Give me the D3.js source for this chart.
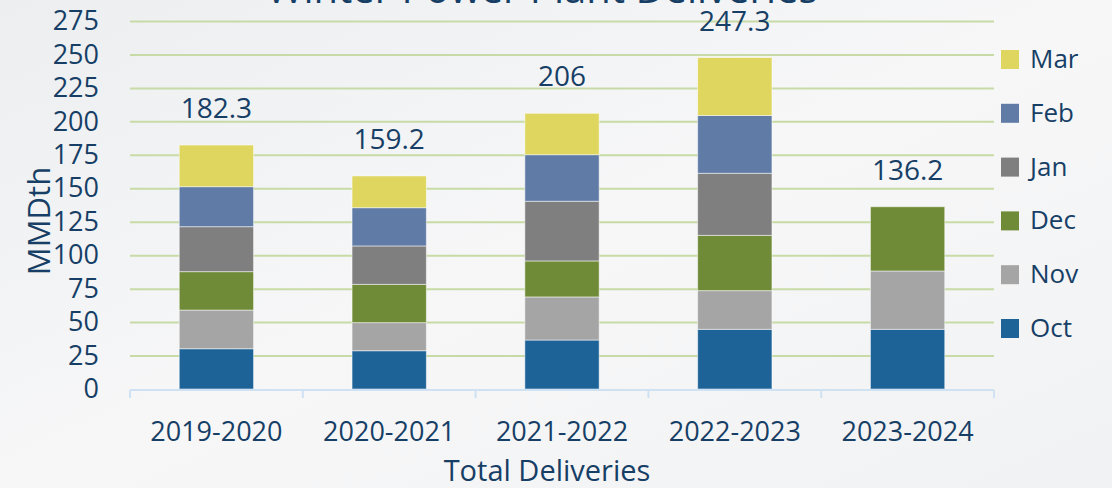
<!DOCTYPE html>
<html>
<head>
<meta charset="utf-8">
<script src="https://cdn.jsdelivr.net/npm/d3@7"></script>
<style>
  body { margin: 0; background: #f3f4f5; }
  svg { display: block; font-family: "Open Sans", sans-serif; }
</style>
</head>
<body>
<svg id="chart"></svg>
<script>
// seasons on the x axis
const seasons = ['2019-2020', '2020-2021', '2021-2022', '2022-2023', '2023-2024'];
// monthly deliveries, MMDth (stack order bottom -> top)
const months = ['Oct', 'Nov', 'Dec', 'Jan', 'Feb', 'Mar'];
const oct = [30.1, 28.6, 36.6, 44.6, 44.6];
const nov = [28.9, 21.0, 32.2, 28.9, 43.6];
const dec = [28.7, 28.6, 26.9, 41.3, 48.0];
const jan = [33.6, 28.7, 44.6, 46.4, 0];
const feb = [29.9, 28.6, 34.8, 43.2, 0];
const mar = [31.1, 23.7, 30.9, 43.3, 0];
const totals = ['182.3', '159.2', '206', '247.3', '136.2'];
const yTicks = [0, 25, 50, 75, 100, 125, 150, 175, 200, 225, 250, 275];
const monthColors = ['#1e6398', '#a5a5a5', '#6f8b37', '#7f7f7f', '#607ca6', '#ded65e'];

const series = [oct, nov, dec, jan, feb, mar];

let W = 1112, H = 488;
let margin = {top: 21, right: 118, bottom: 99, left: 130};
let w = W - margin.left - margin.right;
let h = H - margin.top - margin.bottom;
const navy = '#173f66';

let svg = d3.select('#chart').attr('width', W).attr('height', H);

// faint background wash
let defs = svg.append('defs');
let grad = defs.append('linearGradient').attr('id', 'bg')
    .attr('x1', 0).attr('y1', 0).attr('x2', 1).attr('y2', 1);
grad.append('stop').attr('offset', '0%').attr('stop-color', '#eceef0');
grad.append('stop').attr('offset', '50%').attr('stop-color', '#f7f7f8');
grad.append('stop').attr('offset', '100%').attr('stop-color', '#f1f2f3');
svg.append('rect').attr('width', W).attr('height', H).attr('fill', 'url(#bg)');

// title (mostly cut off above the frame)
svg.append('text')
    .attr('x', 542).attr('y', 3)
    .attr('text-anchor', 'middle')
    .attr('font-size', '40px')
    .attr('fill', navy)
    .text('Winter Power Plant Deliveries');

let g = svg.append('g').attr('transform', `translate(${margin.left},${margin.top})`);

let table = seasons.map((s, i) => {
    let row = {season: s};
    months.forEach((m, k) => row[m] = series[k][i]);
    return row;
});

let stacked = d3.stack().keys(months)(table);

let xScale = d3.scaleBand().domain(seasons).range([0, w]).paddingInner(0.57).paddingOuter(0.285);
let yScale = d3.scaleLinear().domain([0, 275]).range([h, 0]);
let color = d3.scaleOrdinal().domain(months).range(monthColors);

// gridlines
g.append('g')
    .call(d3.axisLeft(yScale).tickValues(yTicks).tickSize(-w).tickFormat(''))
    .call(a => a.select('.domain').remove())
    .call(a => a.selectAll('line').filter(d => d === 0).remove())
    .call(a => a.selectAll('line').attr('stroke', '#c8dba6').attr('stroke-width', 2));

// y tick labels
g.append('g')
    .call(d3.axisLeft(yScale).tickValues(yTicks).tickSize(0).tickPadding(31))
    .call(a => a.select('.domain').remove())
    .call(a => a.selectAll('text')
        .attr('font-family', '"Open Sans", sans-serif')
        .attr('font-size', '27px')
        .attr('fill', navy));

// bars
g.append('g').selectAll('g')
    .data(stacked)
    .join('g')
    .attr('fill', d => color(d.key))
    .selectAll('rect')
    .data(d => d.filter(p => p[1] - p[0] > 0))
    .join('rect')
    .attr('x', d => xScale(d.data.season))
    .attr('y', d => yScale(d[1]))
    .attr('width', xScale.bandwidth())
    .attr('height', d => yScale(d[0]) - yScale(d[1]))
    .attr('stroke', 'rgba(255,255,255,0.5)')
    .attr('stroke-width', 1);

// total labels
g.append('g').selectAll('text')
    .data(table)
    .join('text')
    .attr('x', d => xScale(d.season) + xScale.bandwidth() / 2)
    .attr('y', d => yScale(d3.sum(months, m => d[m])) - 27)
    .attr('text-anchor', 'middle')
    .attr('font-size', '28px')
    .attr('fill', navy)
    .text((d, i) => totals[i]);

// x axis
let xEdges = d3.scaleLinear().domain([0, seasons.length]).range([0, w]);
let xAxis = g.append('g').attr('transform', `translate(0,${h + 1})`);
xAxis.append('line')
    .attr('x1', 0).attr('x2', w)
    .attr('stroke', '#cfe2f3').attr('stroke-width', 2);
xAxis.selectAll('.tick')
    .data(d3.range(seasons.length + 1))
    .join('line')
    .attr('x1', d => xEdges(d)).attr('x2', d => xEdges(d))
    .attr('y1', 0).attr('y2', 8)
    .attr('stroke', '#cfe2f3').attr('stroke-width', 2);
xAxis.selectAll('text')
    .data(seasons)
    .join('text')
    .attr('x', d => xScale(d) + xScale.bandwidth() / 2)
    .attr('y', 51)
    .attr('text-anchor', 'middle')
    .attr('font-size', '27px')
    .attr('fill', navy)
    .text(d => d);

// axis titles
svg.append('text')
    .attr('x', 547).attr('y', 481)
    .attr('text-anchor', 'middle')
    .attr('font-size', '29px')
    .attr('fill', navy)
    .text('Total Deliveries');

svg.append('text')
    .attr('transform', 'translate(50,221) rotate(-90)')
    .attr('text-anchor', 'middle')
    .attr('font-size', '31px')
    .attr('fill', navy)
    .text('MMDth');

// legend (top to bottom: Mar ... Oct)
let legendKeys = months.slice().reverse();
let ly = d3.scalePoint().domain(legendKeys).range([59, 328]);
let legend = svg.append('g');
legend.selectAll('rect')
    .data(legendKeys)
    .join('rect')
    .attr('x', 1001).attr('y', d => ly(d) - 9)
    .attr('width', 18).attr('height', 19)
    .attr('fill', d => color(d));
legend.selectAll('text')
    .data(legendKeys)
    .join('text')
    .attr('x', 1030).attr('y', d => ly(d) + 9)
    .attr('font-size', '26px')
    .attr('fill', navy)
    .text(d => d);
</script>
</body>
</html>
